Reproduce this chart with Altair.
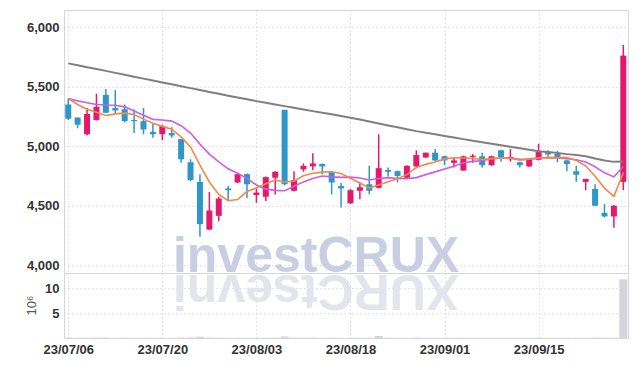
import altair as alt
import pandas as pd

dates = ["23/07/06", "23/07/07", "23/07/10", "23/07/11", "23/07/12", "23/07/13", "23/07/14", "23/07/17", "23/07/18", "23/07/19",
         "23/07/20", "23/07/21", "23/07/24", "23/07/25", "23/07/26", "23/07/27", "23/07/28", "23/07/31", "23/08/01", "23/08/02",
         "23/08/03", "23/08/04", "23/08/07", "23/08/08", "23/08/09", "23/08/10", "23/08/11", "23/08/14", "23/08/16", "23/08/17",
         "23/08/18", "23/08/21", "23/08/22", "23/08/23", "23/08/24", "23/08/25", "23/08/28", "23/08/29", "23/08/30", "23/08/31",
         "23/09/01", "23/09/04", "23/09/05", "23/09/06", "23/09/07", "23/09/08", "23/09/11", "23/09/12", "23/09/13", "23/09/14",
         "23/09/15", "23/09/18", "23/09/19", "23/09/20", "23/09/21", "23/09/22", "23/09/25", "23/09/26", "23/09/27", "23/10/04"]

opens = [5350, 5240, 5100, 5220, 5430, 5320, 5310, 5220, 5210, 5120,
         5100, 5110, 5060, 4865, 4700, 4300, 4415, 4645, 4695, 4765,
         4590, 4575, 4735, 5305, 4625, 4805, 4830, 4850, 4785, 4665,
         4520, 4625, 4680, 4650, 4800, 4790, 4735, 4830, 4905, 4945,
         4915, 4860, 4795, 4910, 4915, 4840, 4965, 4890, 4865, 4830,
         4885, 4950, 4935, 4880, 4790, 4700, 4640, 4440, 4410, 4700]
highs = [5400, 5240, 5320, 5440, 5480, 5470, 5350, 5310, 5320, 5190,
         5180, 5160, 5060, 4890, 4765, 4615, 4575, 4665, 4775, 4770,
         4645, 4745, 4790, 5305, 4790, 4855, 4940, 4855, 4785, 4690,
         4640, 4695, 4835, 5100, 4820, 4795, 4840, 4965, 4945, 4975,
         4920, 4905, 4920, 4935, 4945, 4920, 4970, 4975, 4870, 4900,
         5020, 4965, 4960, 4885, 4835, 4725, 4680, 4515, 4505, 5850]
lows = [5220, 5150, 5090, 5215, 5280, 5270, 5200, 5110, 5100, 5070,
        5050, 5070, 4860, 4705, 4240, 4295, 4370, 4545, 4690, 4565,
        4525, 4540, 4595, 4670, 4620, 4785, 4800, 4765, 4595, 4485,
        4515, 4555, 4595, 4645, 4745, 4695, 4730, 4820, 4900, 4875,
        4840, 4820, 4795, 4860, 4820, 4835, 4870, 4870, 4820, 4825,
        4880, 4910, 4865, 4790, 4700, 4630, 4495, 4400, 4315, 4630]
closes = [5230, 5180, 5270, 5330, 5280, 5300, 5210, 5210, 5140, 5100,
          5170, 5090, 4890, 4715, 4345, 4460, 4560, 4630, 4765, 4680,
          4610, 4740, 4785, 4680, 4715, 4835, 4855, 4830, 4695, 4645,
          4630, 4655, 4625, 4815, 4785, 4750, 4835, 4925, 4945, 4880,
          4880, 4880, 4915, 4920, 4840, 4915, 4905, 4910, 4840, 4895,
          4950, 4930, 4905, 4850, 4760, 4725, 4500, 4410, 4500, 5760]
volumes = [0.08, 0.06, 0.07, 0.09, 0.08, 0.05, 0.06, 0.05, 0.06, 0.05,
           0.05, 0.04, 0.09, 0.12, 0.25, 0.10, 0.07, 0.05, 0.06, 0.05,
           0.05, 0.06, 0.07, 0.30, 0.08, 0.06, 0.07, 0.05, 0.06, 0.05,
           0.05, 0.04, 0.05, 0.40, 0.06, 0.05, 0.05, 0.07, 0.05, 0.04,
           0.04, 0.04, 0.05, 0.04, 0.05, 0.04, 0.05, 0.04, 0.04, 0.05,
           0.06, 0.04, 0.04, 0.05, 0.06, 0.05, 0.08, 0.07, 0.06, 11.8]
ma5 = [5400, 5350, 5310, 5285, 5257, 5271, 5277, 5266, 5227, 5192,
       5166, 5142, 5078, 4993, 4841, 4699, 4594, 4542, 4552, 4619,
       4649, 4685, 4715, 4699, 4706, 4751, 4773, 4782, 4785, 4770,
       4730, 4691, 4650, 4674, 4702, 4726, 4761, 4821, 4847, 4867,
       4893, 4902, 4901, 4897, 4888, 4895, 4900, 4899, 4882, 4893,
       4900, 4906, 4904, 4906, 4879, 4834, 4747, 4648, 4578, 4778]
ma10 = [5400, 5380, 5365, 5350, 5345, 5343, 5330, 5295, 5260, 5225,
        5219, 5210, 5172, 5110, 5017, 4933, 4868, 4810, 4773, 4730,
        4674, 4639, 4629, 4625, 4663, 4700, 4729, 4749, 4742, 4738,
        4740, 4732, 4716, 4729, 4736, 4728, 4726, 4736, 4761, 4784,
        4809, 4832, 4861, 4872, 4877, 4894, 4901, 4900, 4889, 4891,
        4898, 4903, 4901, 4894, 4886, 4867, 4827, 4776, 4742, 4829]
ma60 = [5695, 5679, 5663, 5648, 5632, 5615, 5599, 5583, 5567, 5551,
        5535, 5519, 5503, 5487, 5471, 5455, 5439, 5423, 5408, 5393,
        5378, 5364, 5350, 5336, 5323, 5308, 5294, 5281, 5267, 5253,
        5239, 5223, 5207, 5191, 5174, 5158, 5142, 5126, 5113, 5099,
        5086, 5073, 5059, 5046, 5032, 5020, 5007, 4995, 4983, 4970,
        4958, 4950, 4942, 4933, 4925, 4915, 4896, 4879, 4868, 4872]

price_ticks = [4000, 4250, 4500, 4750, 5000, 5250, 5500, 5750, 6000]
volume_ticks = [5, 10]
date_tick_idx = [0, 10, 20, 30, 40, 50]
watermark = "investCRUX"

df = pd.DataFrame({
    "idx": list(range(len(dates))),
    "date": dates,
    "open": opens, "high": highs, "low": lows, "close": closes,
    "volume": volumes, "ma5": ma5, "ma10": ma10, "ma60": ma60,
})
df["dir"] = ["up" if c >= o else "down" for o, c in zip(opens, closes)]

label_expr = "[" + ",".join("'" + d + "'" for d in dates) + "][datum.value]"

W = 564
xscale = alt.Scale(domain=[-0.45, 59.5], nice=False, zero=False, padding=0)
color_scale = alt.Scale(domain=["up", "down"], range=["#e5196b", "#2e96c8"])

x_price = alt.X("idx:Q", scale=xscale,
                axis=alt.Axis(values=date_tick_idx, labels=False, title=None, grid=True,
                              minExtent=0, maxExtent=0))
yscale = alt.Scale(domain=[3935, 6143], nice=False, zero=False, padding=0)

base = alt.Chart(df)

wm = alt.Chart(pd.DataFrame({"t": [watermark]})).mark_text(
    font="Liberation Sans", fontWeight="bold", fontSize=50, color="#c9cee2",
    align="center", baseline="alphabetic"
).encode(text="t:N", x=alt.value(252), y=alt.value(262))

wicks = base.mark_rule(strokeWidth=1.5).encode(
    x=x_price,
    y=alt.Y("low:Q", scale=yscale,
            axis=alt.Axis(values=price_ticks, format=",d", title=None, labelPadding=5)),
    y2="high:Q",
    color=alt.Color("dir:N", scale=color_scale, legend=None),
)
bodies = base.mark_bar(size=6).encode(
    x=x_price,
    y=alt.Y("open:Q", scale=yscale),
    y2="close:Q",
    color=alt.Color("dir:N", scale=color_scale, legend=None),
)
line60 = base.mark_line(strokeWidth=2, color="#7f7f7f").encode(
    x=x_price, y=alt.Y("ma60:Q", scale=yscale))
line10 = base.mark_line(strokeWidth=1.6, color="#c85fe6").encode(
    x=x_price, y=alt.Y("ma10:Q", scale=yscale))
line5 = base.mark_line(strokeWidth=1.6, color="#f08a4b").encode(
    x=x_price, y=alt.Y("ma5:Q", scale=yscale))

price = alt.layer(wm, wicks, bodies, line60, line10, line5).properties(width=W, height=263)

wm2 = alt.Chart(pd.DataFrame({"t": [watermark[::-1]]})).mark_text(
    font="Liberation Sans", fontWeight="bold", fontSize=50, color="#e4e4ed",
    align="center", baseline="alphabetic", angle=180
).encode(text="t:N", x=alt.value(252), y=alt.value(2))

vol = base.mark_bar(size=8, color="#d4d4da").encode(
    x=alt.X("idx:Q", scale=xscale,
            axis=alt.Axis(values=date_tick_idx, labelExpr=label_expr, title=None,
                          grid=True, labelPadding=5)),
    y=alt.Y("volume:Q", scale=alt.Scale(domain=[0, 13.06], nice=False, padding=0),
            axis=alt.Axis(values=volume_ticks, title="10⁶", titleFontWeight="normal",
                          titleFontSize=13, titleColor="#555", titleFont="Liberation Sans",
                          titleX=-26, titleY=32, labelPadding=5)),
)
volume = alt.layer(wm2, vol).properties(width=W, height=65)

chart = alt.vconcat(price, volume, spacing=0, bounds="flush").properties(
    padding={"left": 16, "top": 1, "right": 0, "bottom": 0}
).configure_view(
    stroke="#d6d6de", strokeWidth=1
).configure_axis(
    labelFont="Liberation Sans", labelFontSize=13, labelFontWeight="bold",
    labelColor="#333", gridColor="#c5c8da", gridDash=[1, 3], gridWidth=1,
    domain=False, ticks=False,
)

chart.save("out.html", embed_options={"renderer": "svg", "actions": False})
